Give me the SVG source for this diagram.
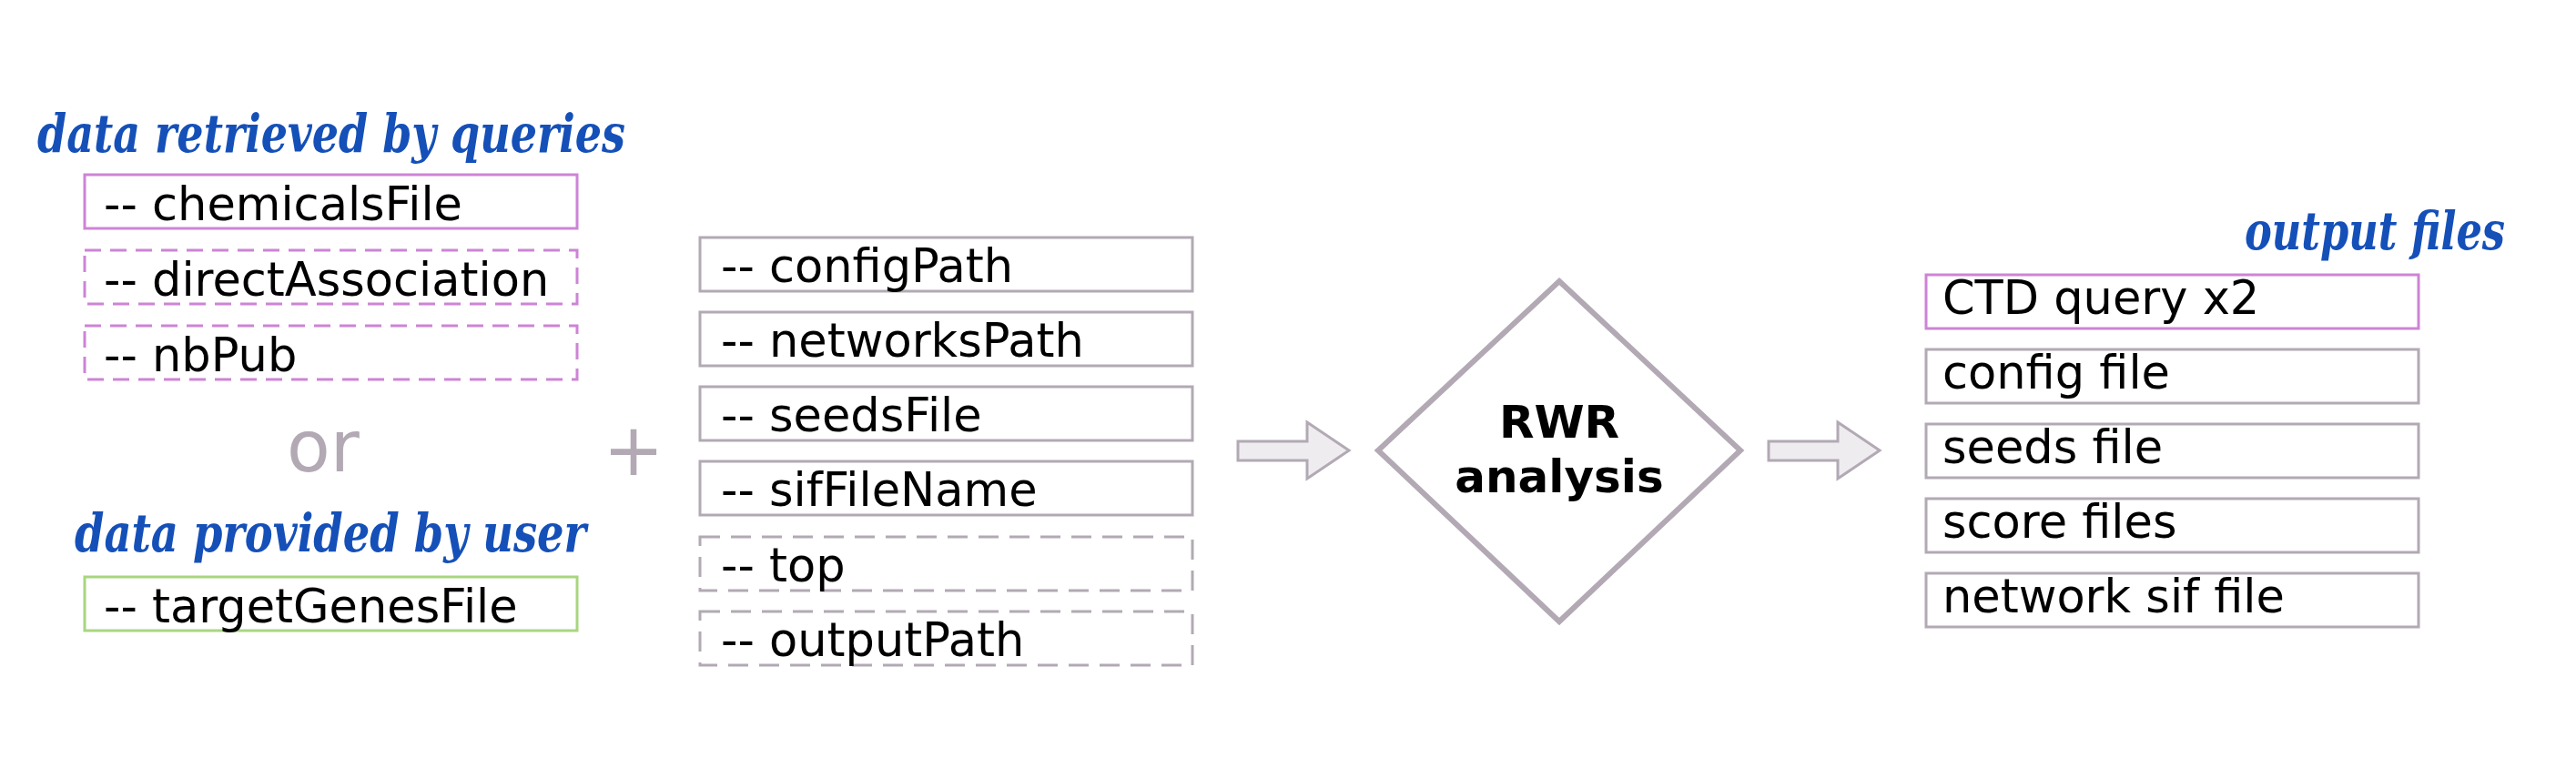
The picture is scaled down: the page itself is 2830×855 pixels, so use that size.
<svg xmlns="http://www.w3.org/2000/svg" width="2830" height="855" viewBox="0 0 2830 855">
<style>
.title{font-family:"DejaVu Serif",serif;font-stretch:condensed;font-weight:bold;font-style:italic;font-size:58px;fill:#1550b8;text-anchor:middle}
.lbl{font-family:"DejaVu Sans",sans-serif;font-size:51px;fill:#000}
.box{fill:#fff;stroke-width:3}
.pur{stroke:#cd84d6}
.grn{stroke:#a8d67f}
.gry{stroke:#b2a9b4}
.dash{stroke-dasharray:18 10}
.gdash{stroke-dasharray:22 12}
.op{font-family:"DejaVu Sans",sans-serif;fill:#b2a9b4;text-anchor:middle}
.arrow{fill:#efecf0;stroke:#b2a9b4;stroke-width:3}
</style>
<rect width="2830" height="855" fill="#fff"/>
<text class="title" x="364" y="167" textLength="646" lengthAdjust="spacingAndGlyphs">data retrieved by queries</text>
<g id="chemicalsFile"><rect class="box pur" x="93" y="192" width="541" height="59"/><text class="lbl" x="114" y="242">-- chemicalsFile</text></g>
<g id="directAssociation"><rect class="box pur dash" x="93" y="275" width="541" height="59"/><text class="lbl" x="114" y="325">-- directAssociation</text></g>
<g id="nbPub"><rect class="box pur dash" x="93" y="358" width="541" height="59"/><text class="lbl" x="114" y="408">-- nbPub</text></g>
<text class="op" x="355" y="518" font-size="78">or</text>
<text class="title" x="363" y="606" textLength="562" lengthAdjust="spacingAndGlyphs">data provided by user</text>
<g id="targetGenesFile"><rect class="box grn" x="93" y="634" width="541" height="59"/><text class="lbl" x="114" y="684">-- targetGenesFile</text></g>
<text class="op" x="696" y="522" font-size="80">+</text>
<g id="configPath"><rect class="box gry" x="769" y="261" width="541" height="59"/><text class="lbl" x="792" y="310">-- configPath</text></g>
<g id="networksPath"><rect class="box gry" x="769" y="343" width="541" height="59"/><text class="lbl" x="792" y="392">-- networksPath</text></g>
<g id="seedsFile"><rect class="box gry" x="769" y="425" width="541" height="59"/><text class="lbl" x="792" y="474">-- seedsFile</text></g>
<g id="sifFileName"><rect class="box gry" x="769" y="507" width="541" height="59"/><text class="lbl" x="792" y="556">-- sifFileName</text></g>
<g id="top"><rect class="box gry gdash" x="769" y="590" width="541" height="59"/><text class="lbl" x="792" y="639">-- top</text></g>
<g id="outputPath"><rect class="box gry gdash" x="769" y="672" width="541" height="59"/><text class="lbl" x="792" y="721">-- outputPath</text></g>
<g id="connectors">
<path class="arrow" d="M1360 485 H1436 V464 L1482 495 L1436 526 V506 H1360 Z"/>
<path class="arrow" d="M1943 485 H2019 V464 L2065 495 L2019 526 V506 H1943 Z"/>
</g>
<g id="rwr"><path d="M1713 309 L1912 495 L1713 683 L1514 495 Z" fill="#fff" stroke="#b2a9b4" stroke-width="6"/>
<text font-family="DejaVu Sans,sans-serif" font-weight="bold" font-size="50" text-anchor="middle" x="1713" y="481">RWR</text>
<text font-family="DejaVu Sans,sans-serif" font-weight="bold" font-size="50" text-anchor="middle" x="1713" y="541">analysis</text></g>
<text class="title" x="2609" y="274" textLength="286" lengthAdjust="spacingAndGlyphs">output files</text>
<g id="ctd"><rect class="box pur" x="2116" y="302" width="541" height="59"/><text class="lbl" x="2134" y="345">CTD query x2</text></g>
<g id="configFile"><rect class="box gry" x="2116" y="384" width="541" height="59"/><text class="lbl" x="2134" y="427">config file</text></g>
<g id="seedsFileOut"><rect class="box gry" x="2116" y="466" width="541" height="59"/><text class="lbl" x="2134" y="509">seeds file</text></g>
<g id="scoreFiles"><rect class="box gry" x="2116" y="548" width="541" height="59"/><text class="lbl" x="2134" y="591">score files</text></g>
<g id="networkSif"><rect class="box gry" x="2116" y="630" width="541" height="59"/><text class="lbl" x="2134" y="673">network sif file</text></g>
</svg>
